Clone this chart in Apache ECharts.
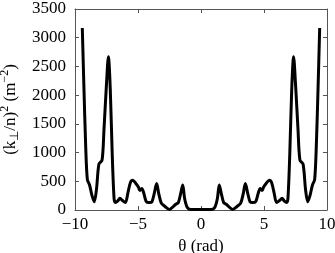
<!DOCTYPE html>
<html><head><meta charset="utf-8">
<script src="https://cdn.jsdelivr.net/npm/echarts@6/dist/echarts.min.js"></script>
<style>html,body{margin:0;padding:0;background:#fff}#c{width:335px;height:253px}</style>
</head><body><div id="c"></div>
<script>
var theta = [-9.42,-9.3,-9.15,-9.02,-8.85,-8.65,-8.47,-8.3,-8.1,-7.85,-7.7,-7.5,-7.35,-7.2,-7.05,-6.9,-6.8,-6.6,-6.43,-6.25,-6.0,-5.8,-5.6,-5.42,-5.2,-4.97,-4.85,-4.7,-4.55,-4.35,-4.1,-3.9,-3.7,-3.52,-3.35,-3.15,-2.9,-2.5,-2.2,-2.0,-1.8,-1.6,-1.45,-1.3,-1.1,-0.8,-0.4,0,
  0.4,0.8,1.1,1.3,1.45,1.6,1.8,2.0,2.2,2.5,2.9,3.15,3.35,3.52,3.7,3.9,4.1,4.35,4.55,4.7,4.85,4.97,5.2,5.42,5.6,5.8,6.0,6.25,6.43,6.6,6.8,6.9,7.05,7.2,7.35,7.5,7.7,7.85,8.1,8.3,8.47,8.65,8.85,9.02,9.15,9.3,9.42];
var k2 = [3170,2200,1100,530,440,250,145,350,800,870,1400,2200,2670,2100,1000,200,130,160,205,170,130,300,480,520,470,400,340,375,300,150,130,140,300,460,280,120,70,10,60,100,130,300,435,200,50,10,10,10,
  10,10,50,200,435,300,130,100,60,10,70,120,280,460,300,140,130,150,300,375,340,400,470,520,480,300,130,170,205,160,130,200,1000,2100,2670,2200,1400,870,800,350,145,250,440,530,1100,2200,3170];
var xTicks = [-10,-5,0,5,10];
var yTicks = [0,500,1000,1500,2000,2500,3000,3500];

var data = theta.map(function(t,i){return [t,k2[i]];});
var font = '"Liberation Serif", "Times New Roman", serif';
var axColor = '#555';
var fs = 17;
function fmtX(v){ return String(v).replace('-', '\u2212'); }
function fmtY(v){ return String(v); }
var chart = echarts.init(document.getElementById('c'));
chart.setOption({
  animation:false,
  textStyle:{fontFamily:font},
  grid:{left:75,right:8,top:9,bottom:43,containLabel:false,outerBoundsMode:'none'},
  xAxis:[{
    type:'value', min:xTicks[0], max:xTicks[xTicks.length-1], interval:5,
    axisLine:{onZero:false,lineStyle:{color:axColor,width:1}},
    axisTick:{inside:true,length:4,lineStyle:{color:axColor}},
    splitLine:{show:false},
    axisLabel:{color:'#000',fontFamily:font,fontSize:fs,margin:6,formatter:fmtX},
    name:'\u03b8 (rad)', nameLocation:'middle', nameGap:27,
    nameTextStyle:{color:'#000',fontFamily:font,fontSize:fs}
  },{
    type:'value', position:'top', min:xTicks[0], max:xTicks[xTicks.length-1], interval:5,
    axisLine:{onZero:false,lineStyle:{color:axColor,width:1}},
    axisTick:{inside:true,length:4,lineStyle:{color:axColor}},
    axisLabel:{show:false}, splitLine:{show:false}
  }],
  yAxis:[{
    type:'value', min:0, max:3500, interval:500,
    axisLine:{show:true,onZero:false,lineStyle:{color:axColor,width:1}},
    axisTick:{show:true,inside:true,length:4,lineStyle:{color:axColor}},
    splitLine:{show:false},
    axisLabel:{color:'#000',fontFamily:font,fontSize:fs,margin:9,formatter:fmtY},
    name:'{a|(k}{s|\u22a5}{a|/n)}{p|2}{a| (m}{p|\u22122}{a|)}', nameLocation:'middle', nameGap:40,
    nameTextStyle:{color:'#000',fontFamily:font,fontSize:fs,
      rich:{
        a:{fontFamily:font,fontSize:fs,color:'#000',lineHeight:22,verticalAlign:'middle'},
        s:{fontFamily:font,fontSize:12,color:'#000',lineHeight:11,verticalAlign:'bottom'},
        p:{fontFamily:font,fontSize:12,color:'#000',lineHeight:11,verticalAlign:'top'}
      }}
  },{
    type:'value', position:'right', min:0, max:3500, interval:500,
    axisLine:{show:true,onZero:false,lineStyle:{color:axColor,width:1}},
    axisTick:{show:true,inside:true,length:4,lineStyle:{color:axColor}},
    axisLabel:{show:false}, splitLine:{show:false}
  }],
  series:[{
    type:'line', data:data, showSymbol:false, smooth:0.3,
    lineStyle:{color:'#000',width:3}, clip:true
  }]
});
</script></body></html>
